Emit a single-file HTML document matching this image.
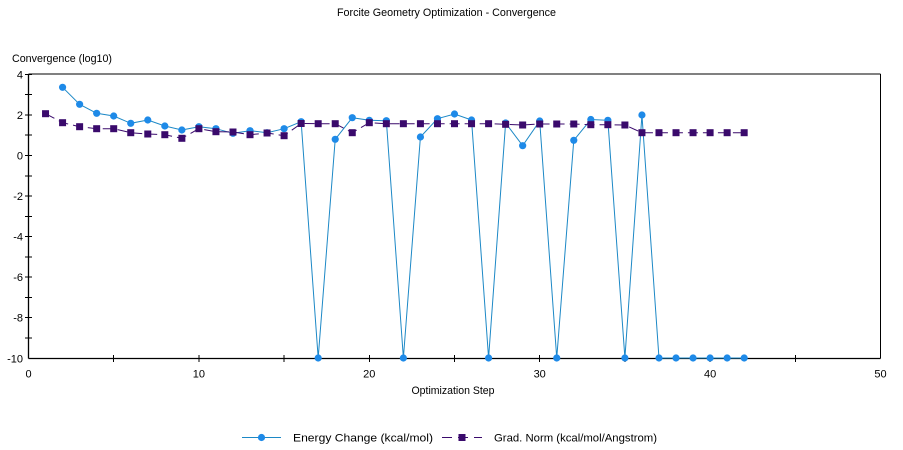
<!DOCTYPE html>
<html>
<head>
<meta charset="utf-8">
<style>
  html,body{margin:0;padding:0;background:#fff;}
  body{width:903px;height:450px;overflow:hidden;}
  svg{display:block;}
  text{font-family:"Liberation Sans",Arial,sans-serif;font-size:11px;fill:#000;}
</style>
</head>
<body>
<svg width="903" height="450" viewBox="0 0 903 450" xmlns="http://www.w3.org/2000/svg">
  <rect x="0" y="0" width="903" height="450" fill="#fff"/>
  <text x="446.5" y="16" text-anchor="middle" textLength="219" lengthAdjust="spacingAndGlyphs">Forcite Geometry Optimization - Convergence</text>
  <text x="12" y="62" textLength="100" lengthAdjust="spacingAndGlyphs">Convergence (log10)</text>
  <text x="453" y="394" text-anchor="middle" textLength="83" lengthAdjust="spacingAndGlyphs">Optimization Step</text>

  <g stroke="#000" stroke-width="1" fill="none" shape-rendering="crispEdges">
    <line x1="28.5" y1="74" x2="880.5" y2="74"/>
    <line x1="880.5" y1="74" x2="880.5" y2="358.5"/>
  </g>
  <g stroke="#000" stroke-width="1.3" fill="none">
    <line x1="28.5" y1="74" x2="28.5" y2="358.5"/>
    <line x1="28.5" y1="358.5" x2="880.5" y2="358.5"/>
  </g>

  <g stroke="#000" stroke-width="1" shape-rendering="crispEdges">
    <line x1="25" y1="74.4" x2="32" y2="74.4"/>
    <line x1="25" y1="94.7" x2="32" y2="94.7"/>
    <line x1="25" y1="115" x2="32" y2="115"/>
    <line x1="25" y1="135.2" x2="32" y2="135.2"/>
    <line x1="25" y1="155.5" x2="32" y2="155.5"/>
    <line x1="25" y1="175.8" x2="32" y2="175.8"/>
    <line x1="25" y1="196.1" x2="32" y2="196.1"/>
    <line x1="25" y1="216.3" x2="32" y2="216.3"/>
    <line x1="25" y1="236.6" x2="32" y2="236.6"/>
    <line x1="25" y1="256.9" x2="32" y2="256.9"/>
    <line x1="25" y1="277.2" x2="32" y2="277.2"/>
    <line x1="25" y1="297.4" x2="32" y2="297.4"/>
    <line x1="25" y1="317.7" x2="32" y2="317.7"/>
    <line x1="25" y1="338" x2="32" y2="338"/>
  </g>
  <g text-anchor="end">
    <text x="23" y="78.5">4</text>
    <text x="23" y="119">2</text>
    <text x="23" y="159.5">0</text>
    <text x="23" y="200">-2</text>
    <text x="23" y="240.5">-4</text>
    <text x="23" y="281">-6</text>
    <text x="23" y="321.5">-8</text>
    <text x="23" y="362.5">-10</text>
  </g>

  <g stroke="#000" stroke-width="1" shape-rendering="crispEdges">
    <line x1="113.7" y1="355" x2="113.7" y2="362"/>
    <line x1="198.9" y1="355" x2="198.9" y2="362"/>
    <line x1="284.1" y1="355" x2="284.1" y2="362"/>
    <line x1="369.3" y1="355" x2="369.3" y2="362"/>
    <line x1="454.5" y1="355" x2="454.5" y2="362"/>
    <line x1="539.7" y1="355" x2="539.7" y2="362"/>
    <line x1="624.9" y1="355" x2="624.9" y2="362"/>
    <line x1="710.1" y1="355" x2="710.1" y2="362"/>
    <line x1="795.3" y1="355" x2="795.3" y2="362"/>
  </g>
  <g text-anchor="middle">
    <text x="28.5" y="377.5">0</text>
    <text x="198.9" y="377.5">10</text>
    <text x="369.3" y="377.5">20</text>
    <text x="539.7" y="377.5">30</text>
    <text x="710.1" y="377.5">40</text>
    <text x="880.5" y="377.5">50</text>
  </g>

  <polyline fill="none" stroke="#1c88c6" stroke-width="1"
    points="62.58,87.3 79.62,104.3 96.66,113.3 113.7,116 130.74,123.3 147.78,120 164.82,126 181.86,130 198.9,126.7 215.94,128.7 232.98,133.3 250.02,130.7 267.06,132.7 284.1,128.7 301.14,121.7 318.18,358 335.22,139.3 352.26,117.7 369.3,120.3 386.34,120.7 403.38,358 420.42,137 437.46,118.7 454.5,114 471.54,120 488.58,358 505.62,123 522.66,145.7 539.7,121 556.74,358 573.78,140.3 590.82,119.5 607.86,120.3 624.9,358 641.94,115 658.98,358 676.02,358 693.06,358 710.1,358 727.14,358 744.18,358"/>
  <g fill="#1e8ae8">
    <circle cx="62.58" cy="87.3" r="3.6"/>
    <circle cx="79.62" cy="104.3" r="3.6"/>
    <circle cx="96.66" cy="113.3" r="3.6"/>
    <circle cx="113.7" cy="116" r="3.6"/>
    <circle cx="130.74" cy="123.3" r="3.6"/>
    <circle cx="147.78" cy="120" r="3.6"/>
    <circle cx="164.82" cy="126" r="3.6"/>
    <circle cx="181.86" cy="130" r="3.6"/>
    <circle cx="198.9" cy="126.7" r="3.6"/>
    <circle cx="215.94" cy="128.7" r="3.6"/>
    <circle cx="232.98" cy="133.3" r="3.6"/>
    <circle cx="250.02" cy="130.7" r="3.6"/>
    <circle cx="267.06" cy="132.7" r="3.6"/>
    <circle cx="284.1" cy="128.7" r="3.6"/>
    <circle cx="301.14" cy="121.7" r="3.6"/>
    <circle cx="318.18" cy="358" r="3.6"/>
    <circle cx="335.22" cy="139.3" r="3.6"/>
    <circle cx="352.26" cy="117.7" r="3.6"/>
    <circle cx="369.3" cy="120.3" r="3.6"/>
    <circle cx="386.34" cy="120.7" r="3.6"/>
    <circle cx="403.38" cy="358" r="3.6"/>
    <circle cx="420.42" cy="137" r="3.6"/>
    <circle cx="437.46" cy="118.7" r="3.6"/>
    <circle cx="454.5" cy="114" r="3.6"/>
    <circle cx="471.54" cy="120" r="3.6"/>
    <circle cx="488.58" cy="358" r="3.6"/>
    <circle cx="505.62" cy="123" r="3.6"/>
    <circle cx="522.66" cy="145.7" r="3.6"/>
    <circle cx="539.7" cy="121" r="3.6"/>
    <circle cx="556.74" cy="358" r="3.6"/>
    <circle cx="573.78" cy="140.3" r="3.6"/>
    <circle cx="590.82" cy="119.5" r="3.6"/>
    <circle cx="607.86" cy="120.3" r="3.6"/>
    <circle cx="624.9" cy="358" r="3.6"/>
    <circle cx="641.94" cy="115" r="3.6"/>
    <circle cx="658.98" cy="358" r="3.6"/>
    <circle cx="676.02" cy="358" r="3.6"/>
    <circle cx="693.06" cy="358" r="3.6"/>
    <circle cx="710.1" cy="358" r="3.6"/>
    <circle cx="727.14" cy="358" r="3.6"/>
    <circle cx="744.18" cy="358" r="3.6"/>
  </g>

  <polyline fill="none" stroke="#3a0a6c" stroke-width="1" stroke-dasharray="10,5"
    points="45.54,113.7 62.58,122.7 79.62,126.7 96.66,128.7 113.7,128.7 130.74,132.7 147.78,134 164.82,134.7 181.86,138.3 198.9,128.7 215.94,131.7 232.98,132 250.02,134.7 267.06,133 284.1,135.7 301.14,123.5 318.18,123.7 335.22,123.7 352.26,132.7 369.3,122.7 386.34,123.7 403.38,123.7 420.42,123.7 437.46,123.7 454.5,123.7 471.54,123.7 488.58,123.7 505.62,124.3 522.66,125 539.7,124 556.74,124 573.78,124 590.82,124.7 607.86,124.7 624.9,125 641.94,132.7 658.98,132.7 676.02,132.7 693.06,132.7 710.1,132.7 727.14,132.7 744.18,132.7"/>
  <g fill="#3a0a6c">
    <rect x="42.04" y="110.2" width="7" height="7"/>
    <rect x="59.08" y="119.2" width="7" height="7"/>
    <rect x="76.12" y="123.2" width="7" height="7"/>
    <rect x="93.16" y="125.2" width="7" height="7"/>
    <rect x="110.2" y="125.2" width="7" height="7"/>
    <rect x="127.24" y="129.2" width="7" height="7"/>
    <rect x="144.28" y="130.5" width="7" height="7"/>
    <rect x="161.32" y="131.2" width="7" height="7"/>
    <rect x="178.36" y="134.8" width="7" height="7"/>
    <rect x="195.4" y="125.2" width="7" height="7"/>
    <rect x="212.44" y="128.2" width="7" height="7"/>
    <rect x="229.48" y="128.5" width="7" height="7"/>
    <rect x="246.52" y="131.2" width="7" height="7"/>
    <rect x="263.56" y="129.5" width="7" height="7"/>
    <rect x="280.6" y="132.2" width="7" height="7"/>
    <rect x="297.64" y="120" width="7" height="7"/>
    <rect x="314.68" y="120.2" width="7" height="7"/>
    <rect x="331.72" y="120.2" width="7" height="7"/>
    <rect x="348.76" y="129.2" width="7" height="7"/>
    <rect x="365.8" y="119.2" width="7" height="7"/>
    <rect x="382.84" y="120.2" width="7" height="7"/>
    <rect x="399.88" y="120.2" width="7" height="7"/>
    <rect x="416.92" y="120.2" width="7" height="7"/>
    <rect x="433.96" y="120.2" width="7" height="7"/>
    <rect x="451" y="120.2" width="7" height="7"/>
    <rect x="468.04" y="120.2" width="7" height="7"/>
    <rect x="485.08" y="120.2" width="7" height="7"/>
    <rect x="502.12" y="120.8" width="7" height="7"/>
    <rect x="519.16" y="121.5" width="7" height="7"/>
    <rect x="536.2" y="120.5" width="7" height="7"/>
    <rect x="553.24" y="120.5" width="7" height="7"/>
    <rect x="570.28" y="120.5" width="7" height="7"/>
    <rect x="587.32" y="121.2" width="7" height="7"/>
    <rect x="604.36" y="121.2" width="7" height="7"/>
    <rect x="621.4" y="121.5" width="7" height="7"/>
    <rect x="638.44" y="129.2" width="7" height="7"/>
    <rect x="655.48" y="129.2" width="7" height="7"/>
    <rect x="672.52" y="129.2" width="7" height="7"/>
    <rect x="689.56" y="129.2" width="7" height="7"/>
    <rect x="706.6" y="129.2" width="7" height="7"/>
    <rect x="723.64" y="129.2" width="7" height="7"/>
    <rect x="740.68" y="129.2" width="7" height="7"/>
  </g>

  <line x1="242" y1="437.5" x2="281" y2="437.5" stroke="#1c88c6" stroke-width="1"/>
  <circle cx="261.5" cy="437.5" r="3.6" fill="#1e8ae8"/>
  <text x="293" y="441.5" textLength="140" lengthAdjust="spacingAndGlyphs">Energy Change (kcal/mol)</text>

  <line x1="442" y1="437.5" x2="482" y2="437.5" stroke="#3a0a6c" stroke-width="1" stroke-dasharray="10,6"/>
  <rect x="458.5" y="434" width="7" height="7" fill="#3a0a6c"/>
  <text x="494" y="441.5" textLength="163" lengthAdjust="spacingAndGlyphs">Grad. Norm (kcal/mol/Angstrom)</text>
</svg>
</body>
</html>
